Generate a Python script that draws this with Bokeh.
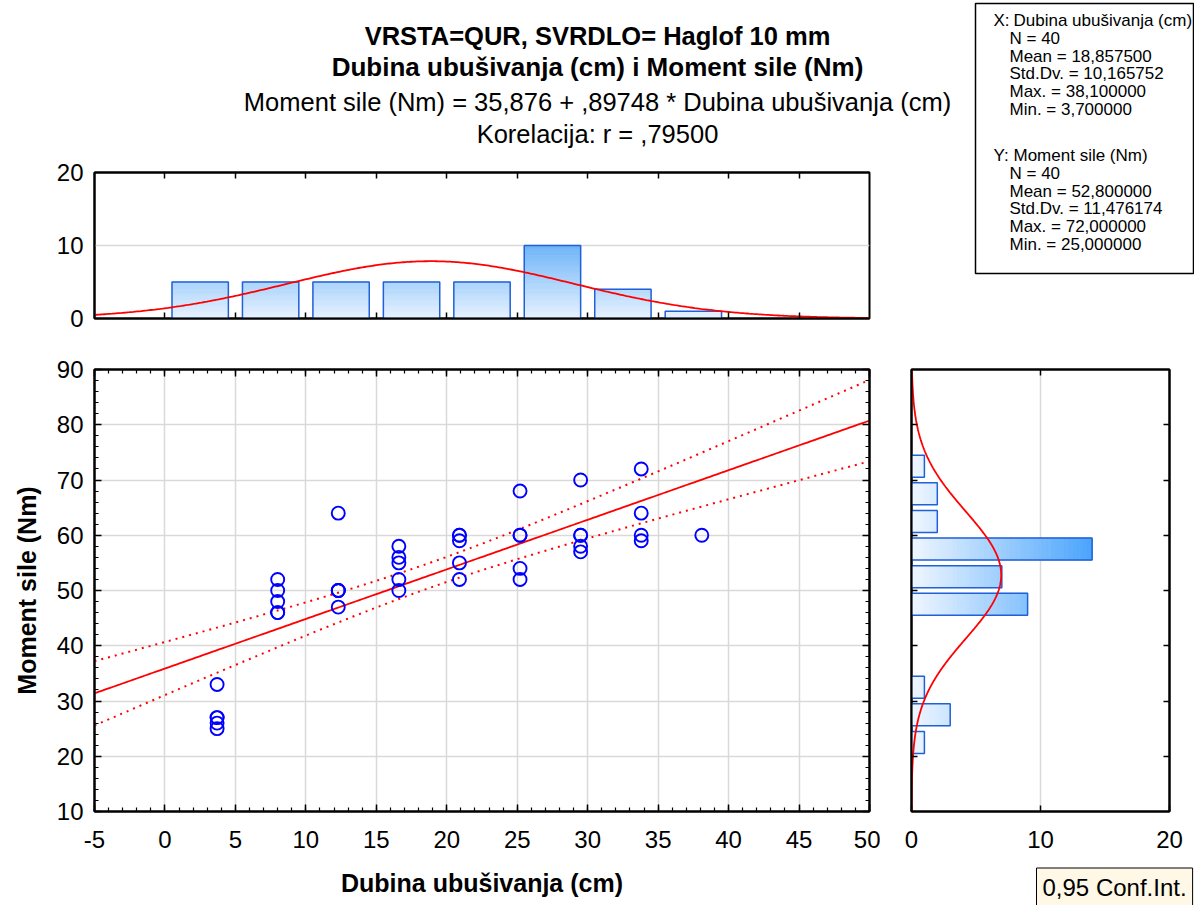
import numpy as np
from bokeh.plotting import figure
from bokeh.models import (Range1d, LinearAxis, SingleIntervalTicker, FixedTicker,
                          Label, BoxAnnotation)
from bokeh.layouts import column, row
from bokeh.embed import file_html
from bokeh.resources import INLINE

# ---------------- data ----------------
dubina = [3.7, 3.7, 3.7, 3.7, 3.7,
          8.0, 8.0, 8.0, 8.0, 8.0,
          12.3, 12.3, 12.3, 12.3, 12.3,
          16.6, 16.6, 16.6, 16.6, 16.6,
          20.9, 20.9, 20.9, 20.9, 20.9,
          25.2, 25.2, 25.2, 25.2, 25.2,
          29.5, 29.5, 29.5, 29.5, 29.5,
          33.8, 33.8, 33.8, 33.8,
          38.1]
moment = [25, 26, 27, 27, 33,
          46, 46, 48, 50, 52,
          47, 50, 50, 50, 64,
          50, 52, 55, 56, 58,
          52, 55, 59, 60, 60,
          52, 54, 60, 60, 68,
          57, 58, 60, 60, 70,
          59, 60, 64, 72,
          60]

x_bin_left = [0, 5, 10, 15, 20, 25, 30, 35]
x_bin_count = [5, 5, 5, 5, 5, 10, 4, 1]
y_bin_low = [20, 25, 30, 35, 40, 45, 50, 55, 60, 65, 70]
y_bin_count = [1, 3, 1, 0, 0, 9, 7, 14, 2, 2, 1]
bin_width = 5

intercept = 35.876
slope = 0.89748
n_obs = 40
x_mean, x_sd = 18.8575, 10.165752
y_mean, y_sd = 52.8, 11.476174
t_crit = 2.0244

header_lines = [
    ("VRSTA=QUR, SVRDLO= Haglof 10 mm", True, "25.5px"),
    ("Dubina ubušivanja (cm) i Moment sile (Nm)", True, "26px"),
    ("Moment sile (Nm) = 35,876 + ,89748 * Dubina ubušivanja (cm)", False, "25.5px"),
    ("Korelacija: r = ,79500", False, "25.5px"),
]
stats_x_head = ("X:", "Dubina ubušivanja (cm)")
stats_x_lines = ["N = 40", "Mean = 18,857500", "Std.Dv. = 10,165752",
                 "Max. = 38,100000", "Min. = 3,700000"]
stats_y_head = ("Y:", "Moment sile (Nm)")
stats_y_lines = ["N = 40", "Mean = 52,800000", "Std.Dv. = 11,476174",
                 "Max. = 72,000000", "Min. = 25,000000"]
x_label = "Dubina ubušivanja (cm)"
y_label = "Moment sile (Nm)"
conf_text = "0,95 Conf.Int."

# ---------------- layout / style (page pixels) ----------------
FONT = "Liberation Sans"
TOTAL_W = 1194
TOTAL_H = 905
LEFT_W = 960                 # header + top histogram width
HEAD_H = 156
TOP_SEC = 340                # height of header + top histogram section
TOP_H = TOP_SEC - HEAD_H
ROW_H = TOTAL_H - TOP_SEC
MAIN_W = 880
RIGHT_W = TOTAL_W - MAIN_W
FX0, FX1 = 94, 869           # frame x for top & main
TY0, TY1 = 172, 318          # top hist frame y
MY0, MY1 = 369, 811          # main frame y
RX0, RX1 = 911, 1169         # right hist frame x
R_BOTTOM = 861               # bottom of right hist figure
BLUE = "#0000FF"
RED = "#FF0000"
BAR_LINE = "#2060D8"
GRID = "#D9D9D9"

XR = (-5, 50)
YR = (10, 90)


def style_axis(ax, labels=True, tick_in=6, minor_in=0, size="24px", standoff=11):
    ax.axis_line_color = "black"
    ax.axis_line_width = 2
    ax.major_tick_in = tick_in
    ax.major_tick_out = 0
    ax.major_tick_line_color = "black" if tick_in else None
    ax.major_tick_line_width = 1.5
    ax.minor_tick_in = minor_in
    ax.minor_tick_out = 0
    ax.minor_tick_line_color = "black" if minor_in else None
    ax.minor_tick_line_width = 1.2
    ax.major_label_text_font = FONT
    if labels:
        ax.major_label_text_color = "black"
        ax.major_label_text_font_size = size
        ax.major_label_standoff = standoff
    else:
        ax.major_label_text_color = None
        ax.major_label_text_font_size = "1px"
        ax.major_label_standoff = 0


def lerp_color(t, c0, c1):
    t = max(0.0, min(1.0, t))
    r = int(round(c0[0] + (c1[0] - c0[0]) * t))
    g = int(round(c0[1] + (c1[1] - c0[1]) * t))
    b = int(round(c0[2] + (c1[2] - c0[2]) * t))
    return "#%02x%02x%02x" % (r, g, b)


def normal_pdf(v, m, s):
    return np.exp(-0.5 * ((v - m) / s) ** 2) / (s * np.sqrt(2 * np.pi))


def base_fig(w, h, xr, yr, bl, br, bt, bb):
    p = figure(width=w, height=h, x_range=Range1d(*xr), y_range=Range1d(*yr),
               output_backend="svg", toolbar_location=None, title=None,
               min_border_left=bl, min_border_right=br,
               min_border_top=bt, min_border_bottom=bb)
    p.outline_line_color = "black"
    p.outline_line_width = 2
    p.background_fill_color = "white"
    p.border_fill_color = "white"
    p.xgrid.grid_line_color = GRID
    p.ygrid.grid_line_color = GRID
    p.xgrid.grid_line_width = 1.5
    p.ygrid.grid_line_width = 1.5
    return p


def text_fig(w, h, x0, y0):
    """Figure whose data coordinates are page pixels, used for free text."""
    p = figure(width=w, height=h, x_range=Range1d(x0, x0 + w), y_range=Range1d(y0 + h, y0),
               output_backend="svg", toolbar_location=None, title=None,
               x_axis_location=None, y_axis_location=None,
               min_border_left=0, min_border_right=0, min_border_top=0, min_border_bottom=0)
    p.outline_line_color = None
    p.grid.visible = False
    p.background_fill_color = "white"
    p.border_fill_color = "white"
    return p


def add_text(p, txt, x, y, size, bold=False, align="left", **kw):
    p.add_layout(Label(x=x, y=y, text=txt, text_align=align, text_baseline="middle",
                       text_font=FONT, text_font_size=size,
                       text_font_style="bold" if bold else "normal",
                       text_color="black", **kw))


# ---------------- header ----------------
ph = text_fig(LEFT_W, HEAD_H, 0, 0)
for (txt, bold, size), py in zip(header_lines, [35, 66, 101, 133]):
    add_text(ph, txt, 597, py, size, bold=bold, align="center")

# ---------------- top histogram ----------------
pt = base_fig(LEFT_W, TOP_H, XR, (0, 20), FX0, LEFT_W - FX1, TY0 - HEAD_H, TOP_SEC - TY1)
pt.xaxis.ticker = FixedTicker(ticks=[0, 5, 10, 15, 20, 25, 30, 35, 40, 45])
pt.yaxis.ticker = FixedTicker(ticks=[0, 10, 20])
style_axis(pt.xaxis[0], labels=False, tick_in=6)
style_axis(pt.yaxis[0], labels=True, tick_in=0, size="24px", standoff=11)
top_ax = LinearAxis(ticker=FixedTicker(ticks=[0, 5, 10, 15, 20, 25, 30, 35, 40, 45]))
style_axis(top_ax, labels=False, tick_in=6)
pt.add_layout(top_ax, "above")
pt.xgrid.visible = False
pt.ygrid.ticker = FixedTicker(ticks=[10])

top_max = max(x_bin_count)
c_lo, c_hi_top = (232, 243, 255), (110, 180, 248)
ql, qr, qb, qt, qc = [], [], [], [], []
for left, cnt in zip(x_bin_left, x_bin_count):
    if cnt <= 0:
        continue
    nsl = max(2, int(round(cnt / top_max * 60)))
    edges = np.linspace(0, cnt, nsl + 1)
    for e0, e1 in zip(edges[:-1], edges[1:]):
        ql.append(left + 0.5); qr.append(left + bin_width - 0.5)
        qb.append(e0); qt.append(e1)
        qc.append(lerp_color(0.5 * (e0 + e1) / top_max, c_lo, c_hi_top))
pt.quad(left=ql, right=qr, bottom=qb, top=qt, fill_color=qc, line_color=qc, line_width=0.8)
pt.quad(left=[l + 0.5 for l in x_bin_left], right=[l + bin_width - 0.5 for l in x_bin_left],
        bottom=0, top=x_bin_count, fill_color=None, line_color=BAR_LINE, line_width=1.5)
xs_curve = np.linspace(XR[0], XR[1], 400)
pt.line(xs_curve, n_obs * bin_width * normal_pdf(xs_curve, x_mean, x_sd),
        line_color=RED, line_width=1.8)

# ---------------- stats box ----------------
ps = text_fig(TOTAL_W - LEFT_W, TOP_SEC, LEFT_W, 0)
ps.add_layout(BoxAnnotation(left=975, right=1193, top=3, bottom=273,
                            fill_color=None, fill_alpha=0, line_color="black",
                            line_width=1.5, line_alpha=1))
step = 17.8
y0 = 20
add_text(ps, stats_x_head[0], 993, y0, "17px")
add_text(ps, stats_x_head[1], 1013, y0, "17px")
for k, t in enumerate(stats_x_lines):
    add_text(ps, t, 1009, y0 + step * (k + 1), "17px")
y1 = 155
add_text(ps, stats_y_head[0], 993, y1, "17px")
add_text(ps, stats_y_head[1], 1013, y1, "17px")
for k, t in enumerate(stats_y_lines):
    add_text(ps, t, 1009, y1 + step * (k + 1), "17px")

# ---------------- main scatter ----------------
pm = base_fig(MAIN_W, ROW_H, XR, YR, FX0, MAIN_W - FX1, MY0 - TOP_SEC, TOTAL_H - MY1)
pm.xaxis.ticker = SingleIntervalTicker(interval=5, num_minor_ticks=5)
pm.yaxis.ticker = SingleIntervalTicker(interval=10, num_minor_ticks=5)
pm.xgrid.ticker = SingleIntervalTicker(interval=5)
pm.ygrid.ticker = SingleIntervalTicker(interval=10)
style_axis(pm.xaxis[0], labels=True, tick_in=7, minor_in=4, size="24px", standoff=19)
style_axis(pm.yaxis[0], labels=True, tick_in=7, minor_in=4, size="24px", standoff=11)
pm.xaxis.major_label_overrides = {-5: "-5"}
pm.xaxis.axis_label = x_label
pm.yaxis.axis_label = y_label
for ax in (pm.xaxis[0], pm.yaxis[0]):
    ax.axis_label_text_font = FONT
    ax.axis_label_text_font_size = "25px"
    ax.axis_label_text_font_style = "bold"
    ax.axis_label_text_color = "black"
pm.xaxis.axis_label_standoff = 18
pm.yaxis.axis_label_standoff = 13
ax_top = LinearAxis(ticker=SingleIntervalTicker(interval=5, num_minor_ticks=5))
style_axis(ax_top, labels=False, tick_in=7, minor_in=4)
pm.add_layout(ax_top, "above")
ax_right = LinearAxis(ticker=SingleIntervalTicker(interval=10, num_minor_ticks=5))
style_axis(ax_right, labels=False, tick_in=7, minor_in=4)
pm.add_layout(ax_right, "right")

xa = np.array(dubina, dtype=float)
ya = np.array(moment, dtype=float)
resid = ya - (intercept + slope * xa)
s_res = np.sqrt(np.sum(resid ** 2) / (len(xa) - 2))
sxx = np.sum((xa - xa.mean()) ** 2)
xl = np.linspace(XR[0], XR[1], 200)
yl = intercept + slope * xl
half = t_crit * s_res * np.sqrt(1.0 / len(xa) + (xl - xa.mean()) ** 2 / sxx)
pm.line(xl, yl + half, line_color=RED, line_width=2, line_dash="2 5")
pm.line(xl, yl - half, line_color=RED, line_width=2, line_dash="2 5")
pm.line(xl, yl, line_color=RED, line_width=1.8)
pm.scatter(dubina, moment, marker="circle", size=13, fill_color=None,
           line_color=BLUE, line_width=1.9)

# ---------------- right histogram ----------------
R_H = R_BOTTOM - TOP_SEC
pr = base_fig(RIGHT_W, R_H, (0, 20), YR, RX0 - MAIN_W, TOTAL_W - RX1,
              MY0 - TOP_SEC, R_BOTTOM - MY1)
pr.xaxis.ticker = FixedTicker(ticks=[0, 10, 20])
pr.yaxis.ticker = FixedTicker(ticks=[20, 30, 40, 50, 60, 70, 80])
style_axis(pr.xaxis[0], labels=True, tick_in=6, size="24px", standoff=19)
style_axis(pr.yaxis[0], labels=False, tick_in=6)
pr.xgrid.ticker = FixedTicker(ticks=[10])
pr.ygrid.visible = False
r_top = LinearAxis(ticker=FixedTicker(ticks=[10]))
style_axis(r_top, labels=False, tick_in=6)
pr.add_layout(r_top, "above")
r_right = LinearAxis(ticker=FixedTicker(ticks=[20, 30, 40, 50, 60, 70, 80]))
style_axis(r_right, labels=False, tick_in=6)
pr.add_layout(r_right, "right")

right_max = max(y_bin_count)
c_hi_r = (74, 164, 252)
ql, qr, qb, qt, qc = [], [], [], [], []
for low, cnt in zip(y_bin_low, y_bin_count):
    if cnt <= 0:
        continue
    nsl = max(2, int(round(cnt / right_max * 70)))
    edges = np.linspace(0, cnt, nsl + 1)
    for e0, e1 in zip(edges[:-1], edges[1:]):
        ql.append(e0); qr.append(e1)
        qb.append(low + 0.5); qt.append(low + bin_width - 0.5)
        qc.append(lerp_color(0.5 * (e0 + e1) / right_max, (240, 247, 255), c_hi_r))
pr.quad(left=ql, right=qr, bottom=qb, top=qt, fill_color=qc, line_color=qc, line_width=0.8)
nz = [(l, c) for l, c in zip(y_bin_low, y_bin_count) if c > 0]
pr.quad(left=0, right=[c for _, c in nz], bottom=[l + 0.5 for l, _ in nz],
        top=[l + bin_width - 0.5 for l, _ in nz], fill_color=None,
        line_color=BAR_LINE, line_width=1.5)
ys_curve = np.linspace(YR[0], YR[1], 400)
pr.line(n_obs * bin_width * normal_pdf(ys_curve, y_mean, y_sd), ys_curve,
        line_color=RED, line_width=1.8)

# ---------------- conf. int. box ----------------
pc = text_fig(RIGHT_W, TOTAL_H - R_BOTTOM, MAIN_W, R_BOTTOM)
add_text(pc, conf_text, 1036, 887, "24px",
         background_fill_color="#FFF8E6", background_fill_alpha=1.0,
         border_line_color="black", border_line_width=1, padding=6)

top_section = row(column(row(ph), pt), ps)
main_section = row(pm, column(pr, row(pc)))
layout = column(top_section, main_section)
open("out.html", "w").write(file_html(layout, INLINE))
